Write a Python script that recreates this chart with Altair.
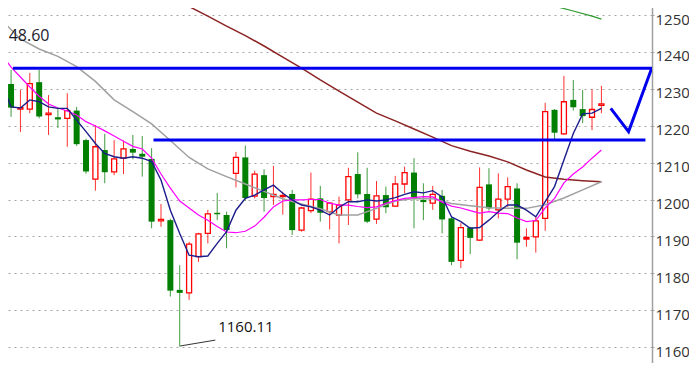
import altair as alt
import pandas as pd

# ---- candle data (index, open, high, low, close) ----
opens = [1223.6, 1231.3, 1224.5, 1224.5, 1231.8, 1223.0, 1222.3, 1222.0, 1224.1, 1216.1,
         1205.5, 1213.4, 1207.5, 1211.2, 1213.7, 1212.4, 1211.0, 1194.2, 1194.4, 1175.5,
         1174.7, 1184.5, 1190.8, 1196.4, 1195.8, 1207.1, 1211.4, 1200.9, 1206.6, 1200.8,
         1200.8, 1201.5, 1191.7, 1197.0, 1200.3, 1196.7, 1195.8, 1199.9, 1206.9, 1201.5,
         1194.7, 1201.2, 1198.2, 1204.2, 1207.3, 1199.9, 1199.0, 1201.0, 1194.9, 1183.5,
         1192.4, 1189.0, 1204.1, 1197.2, 1200.1, 1203.0, 1189.3, 1189.9, 1194.9, 1224.3,
         1217.8, 1227.0, 1224.5, 1222.3, 1225.5]
highs = [1232.4, 1235.1, 1229.7, 1234.3, 1235.1, 1228.3, 1224.8, 1228.8, 1225.1, 1216.5,
         1220.2, 1217.8, 1216.1, 1216.0, 1217.5, 1217.2, 1213.9, 1198.8, 1194.8, 1182.2,
         1188.5, 1191.0, 1197.2, 1201.8, 1196.7, 1212.9, 1214.6, 1207.8, 1208.2, 1209.1,
         1202.1, 1202.6, 1198.0, 1207.3, 1203.7, 1199.2, 1200.8, 1208.6, 1212.8, 1208.6,
         1205.0, 1203.5, 1206.4, 1208.9, 1211.2, 1204.4, 1203.7, 1202.6, 1195.2, 1193.6,
         1192.6, 1208.7, 1208.5, 1207.1, 1206.0, 1204.4, 1192.2, 1195.3, 1226.2, 1224.5,
         1233.5, 1232.4, 1229.7, 1229.9, 1230.8]
lows = [1216.1, 1222.4, 1218.3, 1223.4, 1222.0, 1217.5, 1219.4, 1214.3, 1214.5, 1207.0,
        1202.4, 1204.4, 1206.6, 1206.9, 1210.9, 1206.2, 1192.2, 1192.6, 1173.7, 1160.11,
        1172.8, 1183.1, 1188.1, 1194.4, 1186.8, 1203.3, 1199.6, 1200.3, 1196.7, 1198.5,
        1195.9, 1190.4, 1191.3, 1196.3, 1194.0, 1191.9, 1188.1, 1193.1, 1200.3, 1193.6,
        1193.4, 1196.3, 1198.0, 1201.7, 1192.2, 1194.4, 1197.2, 1190.8, 1182.2, 1181.4,
        1185.2, 1188.8, 1197.0, 1194.9, 1198.0, 1183.8, 1187.2, 1185.6, 1191.5, 1216.3,
        1217.5, 1224.1, 1220.7, 1218.8, 1223.4]
closes = [1231.5, 1224.9, 1224.9, 1231.4, 1222.5, 1223.4, 1221.7, 1224.1, 1215.0, 1207.6,
          1214.3, 1207.4, 1211.0, 1213.7, 1212.7, 1211.6, 1194.0, 1194.6, 1175.3, 1174.7,
          1187.9, 1190.7, 1196.1, 1196.0, 1191.7, 1211.4, 1200.4, 1206.9, 1200.4, 1201.4,
          1201.1, 1191.7, 1197.7, 1200.1, 1196.4, 1199.0, 1198.5, 1206.2, 1201.4, 1194.0,
          1201.0, 1197.9, 1204.2, 1207.3, 1200.6, 1199.3, 1201.4, 1194.6, 1183.1, 1192.4,
          1189.6, 1203.3, 1197.6, 1200.1, 1203.5, 1188.3, 1189.7, 1194.2, 1223.8, 1218.1,
          1226.5, 1225.0, 1222.6, 1224.4, 1225.9]

# ---- moving averages ----
ma5 = [1231.6, 1225.1, 1224.8, 1227.0, 1226.5, 1225.1, 1224.7, 1224.7, 1221.5, 1218.4,
       1215.2, 1212.5, 1211.6, 1211.2, 1211.6, 1211.2, 1210.3, 1205.3, 1197.1, 1190.8,
       1184.9, 1184.5, 1184.7, 1188.1, 1191.3, 1197.1, 1200.3, 1201.2, 1202.6, 1203.9,
       1201.7, 1199.9, 1198.5, 1198.0, 1197.1, 1195.8, 1197.9, 1199.4, 1199.4, 1199.9,
       1199.6, 1199.9, 1200.5, 1201.4, 1202.1, 1201.8, 1202.4, 1200.7, 1195.3, 1194.0,
       1192.2, 1192.4, 1194.4, 1196.7, 1198.5, 1198.5, 1197.1, 1195.3, 1199.4, 1203.5,
       1210.7, 1217.9, 1223.2, 1223.4, 1224.7]
ma10 = [1239.2, 1235.9, 1233.2, 1230.5, 1228.0, 1225.9, 1224.8, 1224.0, 1222.9, 1221.1,
        1219.9, 1218.6, 1217.2, 1215.8, 1214.4, 1213.7, 1211.2, 1206.9, 1203.1, 1199.6,
        1197.7, 1195.8, 1194.4, 1192.7, 1191.2, 1191.0, 1191.4, 1192.8, 1195.2, 1198.0,
        1199.6, 1199.9, 1199.9, 1200.0, 1200.0, 1199.0, 1198.5, 1198.5, 1198.1, 1197.8,
        1198.0, 1199.0, 1199.7, 1200.3, 1200.5, 1200.8, 1200.7, 1199.3, 1198.2, 1197.7,
        1197.0, 1196.3, 1196.7, 1196.3, 1196.2, 1195.0, 1194.0, 1194.3, 1197.7, 1200.3,
        1204.5, 1206.9, 1208.8, 1211.2, 1213.4]
ma20_idx = list(range(0, 65, 2))
ma20 = [1248.6, 1243.5, 1240.8, 1238.8, 1236.0, 1232.0, 1227.0, 1223.8, 1220.5, 1216.0,
        1211.4, 1208.3, 1206.2, 1204.2, 1202.2, 1200.2, 1198.8, 1197.5, 1195.8, 1195.8,
        1197.6, 1199.6, 1200.3, 1200.2, 1198.9, 1198.3, 1197.8, 1197.6, 1197.6, 1198.6,
        1200.4, 1202.6, 1204.8]
ma60_idx = list(range(18, 65, 2))
ma60 = [1254.3, 1252.3, 1249.7, 1247.0, 1244.4, 1241.6, 1238.6, 1235.6, 1232.4, 1229.4,
        1226.4, 1223.4, 1221.3, 1219.1, 1216.9, 1214.6, 1213.1, 1211.8, 1210.2, 1208.0,
        1206.1, 1205.5, 1205.1, 1204.8]
ma120_idx = [57, 59, 61, 63, 64]
ma120 = [1254.1, 1252.4, 1251.1, 1249.7, 1248.9]

# ---- hand-drawn annotations (data coordinates) ----
resist_level, resist_from, resist_to = 1235.6, 1.2, 69.4
support_level, support_from, support_to = 1216.1, 16.2, 68.7
check_idx = [65.0, 66.9, 69.4]
check_val = [1224.7, 1218.4, 1235.8]
low_line_idx = [19.05, 22.8]
low_line_val = [1160.3, 1161.9]
low_label = "1160.11"
top_label = "48.60"
y_ticks = [1160, 1170, 1180, 1190, 1200, 1210, 1220, 1230, 1240, 1250]

candles = pd.DataFrame({
    "i": list(range(len(opens))), "open": opens, "high": highs,
    "low": lows, "close": closes,
})
candles["dir"] = ["up" if c >= o else "down" for o, c in zip(opens, closes)]

x_scale = alt.Scale(domain=[-0.18, 69.4], nice=False, zero=False, padding=0)
y_scale = alt.Scale(domain=[1152.44, 1254.07], nice=False, zero=False, padding=0)
X = alt.X("i:Q", scale=x_scale, axis=None)

y_axis = alt.Axis(
    orient="right", values=y_ticks, grid=True, gridDash=[2, 4], gridColor="#a6a6a6",
    gridWidth=1, domainColor="#a0a0a0", domainWidth=1.5, tickColor="#a0a0a0",
    tickSize=2, labelFont="Open Sans", labelFontSize=15, labelColor="#333333",
    labelPadding=1, labelOffset=4, title=None, format="d",
)


def Y(field):
    return alt.Y(field, scale=y_scale, axis=y_axis)


wicks = alt.Chart(candles).mark_rule(strokeWidth=1).encode(
    x=X,
    y=Y("low:Q"),
    y2="high:Q",
    color=alt.Color("dir:N", scale=alt.Scale(domain=["up", "down"], range=["#ff3030", "#3f9a3f"]), legend=None),
)
up_bodies = alt.Chart(candles).transform_filter("datum.dir == 'up'").mark_bar(
    size=5, fill="white", stroke="#ff0000", strokeWidth=1.3
).encode(x=X, y=Y("open:Q"), y2="close:Q")
down_bodies = alt.Chart(candles).transform_filter("datum.dir == 'down'").mark_bar(
    size=6, color="#007f00"
).encode(x=X, y=Y("open:Q"), y2="close:Q")


def line(idx, vals, color, width):
    df = pd.DataFrame({"i": idx, "v": vals})
    return alt.Chart(df).mark_line(color=color, strokeWidth=width, clip=True).encode(
        x=X, y=Y("v:Q")
    )


l120 = line(ma120_idx, ma120, "#2e9a2e", 1.2)
l60 = line(ma60_idx, ma60, "#8b2323", 1.5)
l20 = line(ma20_idx, ma20, "#a0a0a0", 1.5)
l10 = line(list(range(65)), ma10, "#ff00ff", 1.2)
l5 = line(list(range(65)), ma5, "#1c1c8c", 1.4)

hlines = pd.DataFrame({
    "x1": [resist_from, support_from], "x2": [resist_to, support_to],
    "v": [resist_level, support_level],
})
blue_h = alt.Chart(hlines).mark_rule(color="#0000ee", strokeWidth=3, clip=True).encode(
    x=alt.X("x1:Q", scale=x_scale, axis=None), x2="x2:Q",
    y=Y("v:Q"),
)
check = line(check_idx, check_val, "#0000ee", 3)

low_line = line(low_line_idx, low_line_val, "#333333", 1)
low_text = alt.Chart(pd.DataFrame({"i": [23.1], "v": [1165.4], "t": [low_label]})).mark_text(
    align="left", baseline="middle", font="Open Sans", fontSize=15, color="#111111"
).encode(x=X, y=Y("v:Q"), text="t:N")
top_text = alt.Chart(pd.DataFrame({"i": [0.75], "v": [1244.3], "t": [top_label]})).mark_text(
    align="left", baseline="middle", font="Open Sans", fontSize=16, color="#1a1a2a"
).encode(x=X, y=Y("v:Q"), text="t:N")

chart = alt.layer(
    wicks, up_bodies, down_bodies, l120, l60, l20, l10, l5,
    blue_h, check, low_line, low_text, top_text,
).properties(
    width=652, height=375,
    autosize=alt.AutoSizeParams(type="none"),
    padding={"left": -8, "top": -8, "right": 37, "bottom": -12},
).configure_view(stroke=None)

chart.save("out.html", embed_options={"renderer": "svg", "actions": False})
